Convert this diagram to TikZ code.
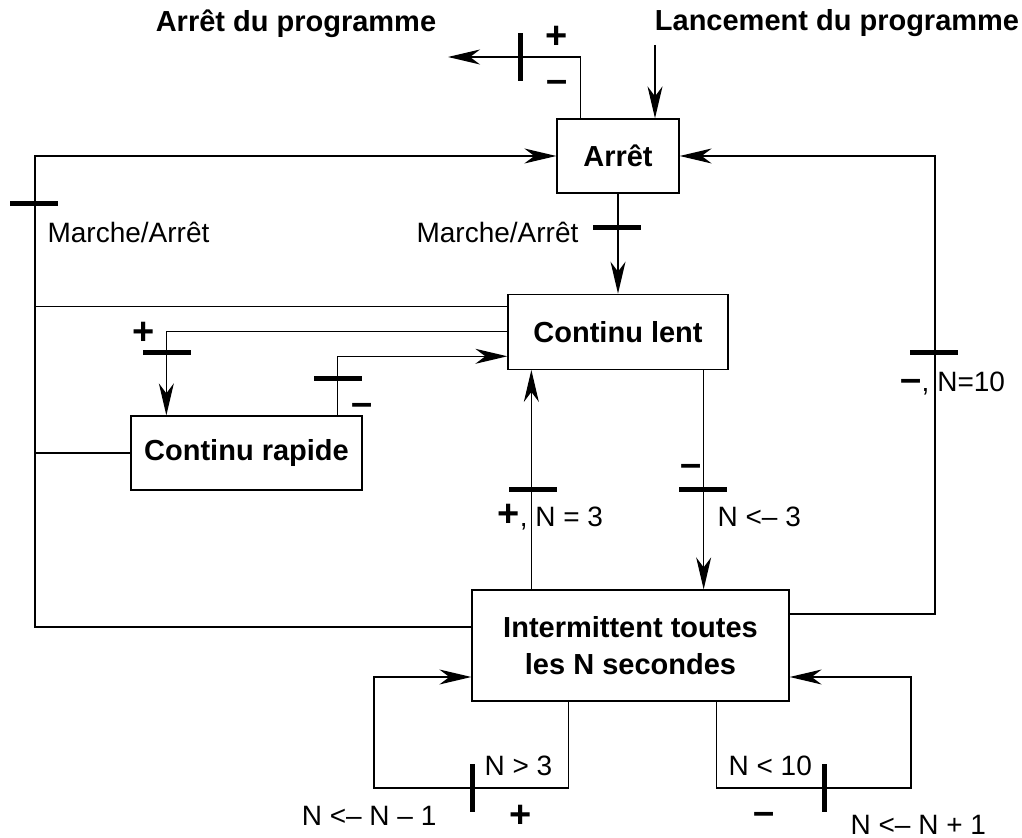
\documentclass[tikz,border=0pt]{standalone}
\usepackage{fontspec}
\setmainfont{Liberation Sans}
\usepackage{tikz}
\usetikzlibrary{positioning, arrows.meta}

\newcommand{\sgn}[1]{{\fontsize{19}{20}\selectfont\bfseries #1}}

\begin{document}
\begin{tikzpicture}[x=0.5pt, y=-0.5pt, line width=0.6pt,
  box/.style={rectangle, draw=black, line width=0.65pt, inner sep=0pt, align=center, font=\fontsize{14.5}{18.5}\selectfont\bfseries},
  arr/.style={-{Stealth[length=16pt, width=7.5pt, inset=5pt]}},
  hbar/.style={rectangle, fill=black, inner sep=0pt, minimum width=24pt, minimum height=2.5pt},
  vbar/.style={rectangle, fill=black, inner sep=0pt, minimum width=2.5pt, minimum height=24pt},
  lbl/.style={inner sep=0pt, font=\fontsize{14}{17}\selectfont},
  ttl/.style={inner sep=0pt, font=\fontsize{14.5}{17}\selectfont\bfseries},
  sign/.style={inner sep=0pt, font=\fontsize{19}{20}\selectfont\bfseries}]
%
\useasboundingbox (0,0) rectangle (1022,838);

%%% titles
\node [ttl, anchor=base] (quit-title) at (296,32) {Arrêt du programme};
\node [ttl, anchor=base] (launch-title) at (837,31) {Lancement du programme};

%%% states
\node [box, minimum width=61pt, minimum height=37pt] (arret) at (618,156) {Arrêt};
\node [box, minimum width=110pt, minimum height=37.5pt, below=50pt of arret] (lent) {Continu lent};
\node [box, minimum width=115.5pt, minimum height=37pt] (rapide) at (246.5,453) {Continu rapide};
\node [box, minimum width=158.5pt, minimum height=55.5pt] (inter) at (630.5,645.5) {Intermittent toutes\\ les N secondes};

%%% free ends
\coordinate (launch) at (655,45);
\coordinate (quit) at (448,57);
\coordinate (bus) at (35,156);
\coordinate (rbus) at (935,156);
\coordinate (lloop) at (374,788);
\coordinate (rloop) at (911,788);

%%% connections, arrows
\draw [arr] (launch) -- (launch |- arret.north);
\draw [arr] ([xshift=12pt]arret.north west) |- (quit);
\draw [arr] (arret) -- (lent);
\draw [arr] ([yshift=9.25pt]inter.west) -| (bus) -- (arret.west);
\draw ([yshift=12.5pt]lent.west) -- ([yshift=12.5pt]lent.west -| bus);
\draw (rapide.west) -- (rapide.west -| bus);
\draw [arr] (lent.west) -| ([xshift=18pt]rapide.north west);
\draw [arr] ([xshift=-12.5pt]rapide.north east) |- ([yshift=-12.25pt]lent.west);
\draw [arr] ([xshift=30pt]inter.north west) -- ([xshift=30pt]inter.north west |- lent.south);
\draw [arr] ([xshift=-12.5pt]lent.south east) -- ([xshift=-12.5pt]lent.south east |- inter.north);
\draw [arr] ([yshift=15.75pt]inter.east) -| (rbus) -- (arret.east);
\draw [arr] ([xshift=48.5pt]inter.south west) |- (lloop) |- ([yshift=-15.75pt]inter.west);
\draw [arr] ([xshift=-36.5pt]inter.south east) |- (rloop) |- ([yshift=-15.75pt]inter.east);

%%% bars
\node [vbar] (bar-quit) at (520,57) {};
\node [hbar] (bar-left) at (34,204) {};
\node [hbar] (bar-start) at (617,228) {};
\node [hbar] (bar-fast) at (167,353) {};
\node [hbar] (bar-slow) at (338,379) {};
\node [hbar] (bar-up) at (533,490) {};
\node [hbar] (bar-down) at (703,490) {};
\node [hbar] (bar-right) at (934,353) {};
\node [vbar] (bar-dec) at (472,788) {};
\node [vbar] (bar-inc) at (824,788) {};

%%% labels
\node [sign, anchor=base] (quit-plus) at (557,49) {+};
\node [sign, anchor=base] (quit-minus) at (557,93) {–};
\node [lbl, anchor=base west] (left-lbl) at (47,243) {Marche/Arrêt};
\node [lbl, anchor=base east] (start-lbl) at (579,243) {Marche/Arrêt};
\node [sign, anchor=base] (fast-plus) at (144,345) {+};
\node [sign, anchor=base] (slow-minus) at (362,416) {–};
\node [lbl, anchor=base west] (up-lbl) at (497,527) {\sgn{+}, N = 3};
\node [sign, anchor=base] (down-minus) at (691,477) {–};
\node [lbl, anchor=base west] (down-lbl) at (717,527) {N <– 3};
\node [lbl, anchor=base west] (right-lbl) at (900,392) {\sgn{–}, N=10};
\node [lbl, anchor=base west] (dec-cond) at (484,775) {N > 3};
\node [lbl, anchor=base east] (dec-lbl) at (437,825) {N <– N – 1};
\node [sign, anchor=base] (dec-plus) at (521,827) {+};
\node [lbl, anchor=base west] (inc-cond) at (728,775) {N < 10};
\node [sign, anchor=base] (inc-minus) at (764,824) {–};
\node [lbl, anchor=base west] (inc-lbl) at (850,834) {N <– N + 1};

\end{tikzpicture}
\end{document}
